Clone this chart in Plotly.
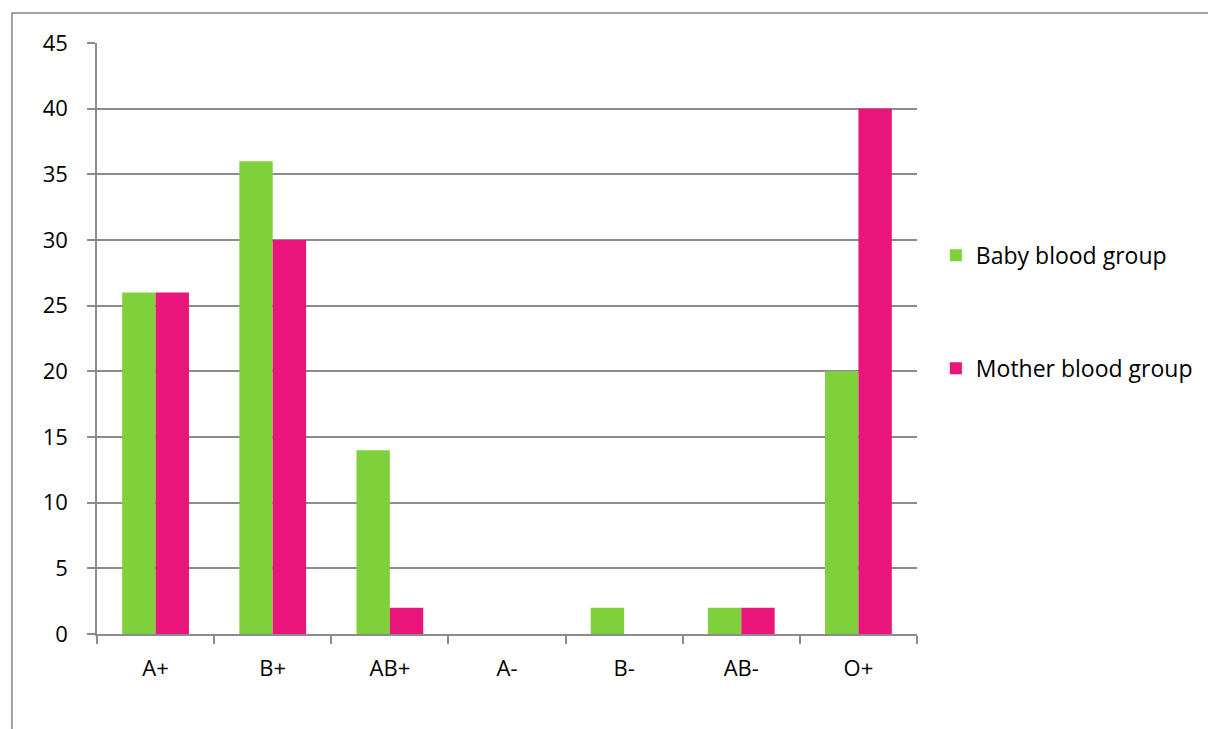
import plotly.graph_objects as go

categories = ["A+", "B+", "AB+", "A-", "B-", "AB-", "O+"]
baby = [26, 36, 14, 0, 2, 2, 20]
mother = [26, 30, 2, 0, 0, 2, 40]

fig = go.Figure()
fig.add_trace(go.Bar(x=categories, y=baby, name="Baby blood group",
                     marker=dict(color="#7FD13B", line=dict(width=0)),
                     legendgroup="a"))
fig.add_trace(go.Bar(x=categories, y=mother, name="Mother blood group",
                     marker=dict(color="#EA157A", line=dict(width=0)),
                     legendgroup="b"))

axis_color = "#8C8C8C"
font = dict(family="Open Sans, Liberation Sans, sans-serif", size=22, color="#000000")

fig.update_layout(
    width=1208, height=721,
    margin=dict(l=89, r=299, t=35, b=95),
    paper_bgcolor="white", plot_bgcolor="white",
    barmode="group", bargap=0.43, bargroupgap=0,
    font=font,
    showlegend=True,
    legend=dict(x=1.023, y=0.545, xanchor="left", yanchor="middle",
                tracegroupgap=80, font=dict(size=23), itemwidth=30),
    xaxis=dict(showline=True, linecolor=axis_color, linewidth=1.5,
               ticks="outside", ticklen=8, tickcolor=axis_color, tickwidth=1.5,
               tickson="boundaries", showgrid=False, tickfont=font,
               ticklabelstandoff=14),
    yaxis=dict(range=[0, 45], dtick=5, showline=True, linecolor=axis_color, linewidth=1.5,
               ticks="outside", ticklen=8, tickcolor=axis_color, tickwidth=1.5,
               showgrid=True, gridcolor=axis_color, gridwidth=1.5, zeroline=False,
               tickfont=font, ticklabelstandoff=15),
)

fig.add_shape(type="rect", xref="paper", yref="paper",
              x0=-0.1037, y0=-0.5, x1=1.6, y1=1.0508,
              line=dict(color="#868686", width=1.5), fillcolor="rgba(0,0,0,0)", layer="below")

fig.write_html("out.html")
